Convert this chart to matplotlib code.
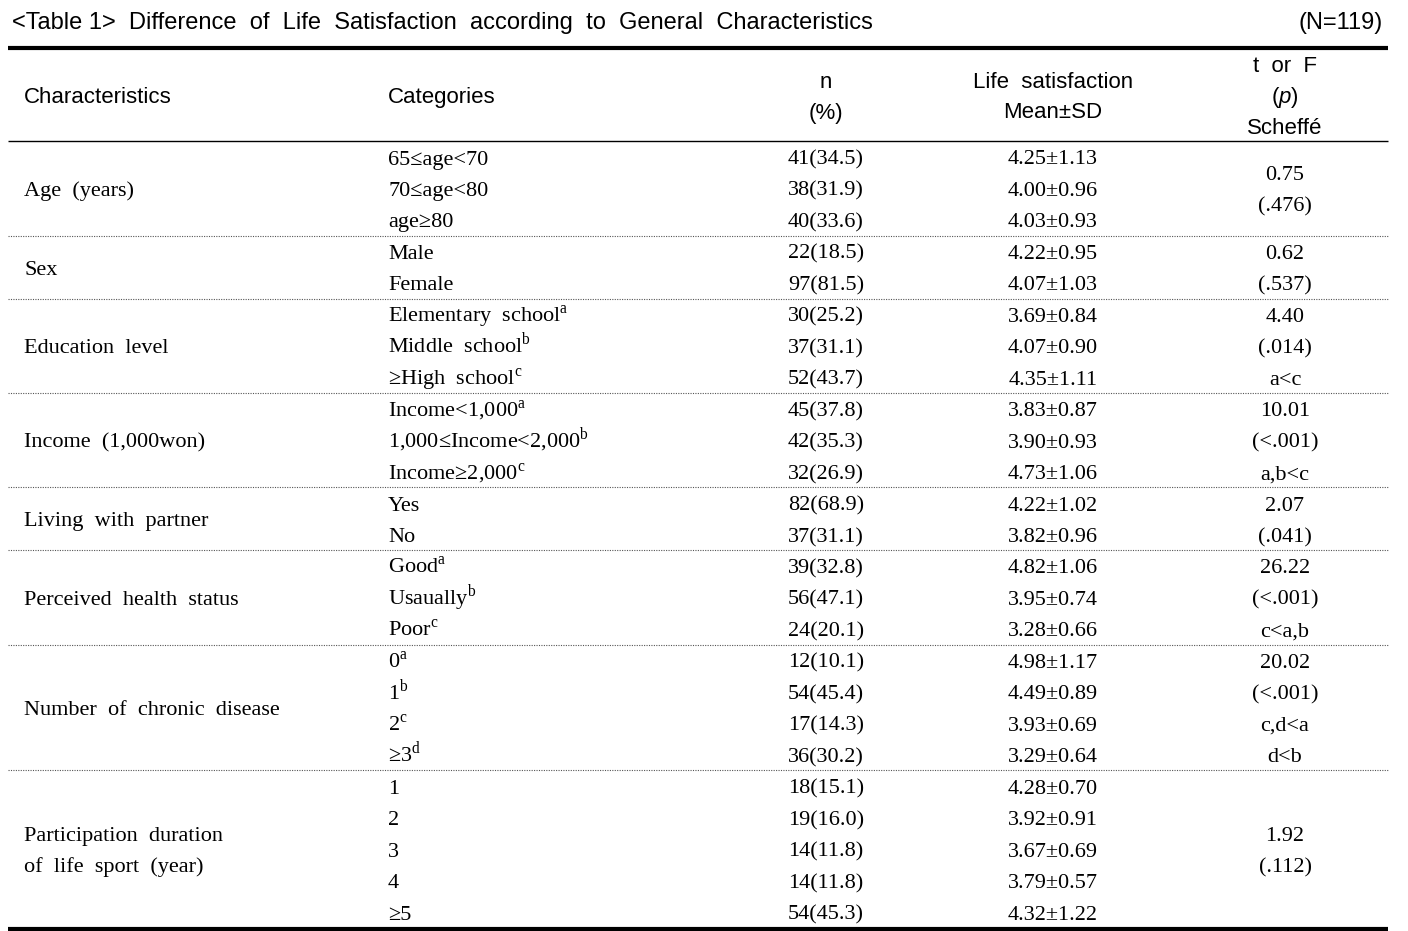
import matplotlib
matplotlib.use("Agg")
import matplotlib.pyplot as plt

plt.rcParams["mathtext.fontset"] = "custom"
plt.rcParams["mathtext.rm"] = "Liberation Serif"
plt.rcParams["mathtext.it"] = "Liberation Sans:italic"

# ---------------- data ----------------
title = "<Table 1>  Difference  of  Life  Satisfaction  according  to  General  Characteristics"
n_total = "(N=119)"

col_headers = [
    ["Characteristics"],
    ["Categories"],
    ["n", "(%)"],
    ["Life  satisfaction", "Mean\u00b1SD"],
    ["t  or  F", "($\\it{p}$)", "Scheff\u00e9"],
]

characteristics = [
    "Age  (years)",
    "Sex",
    "Education  level",
    "Income  (1,000won)",
    "Living  with  partner",
    "Perceived  health  status",
    "Number  of  chronic  disease",
    "Participation  duration\nof  life  sport  (year)",
]

categories = [
    ["65\u2264age<70", "70\u2264age<80", "age\u226580"],
    ["Male", "Female"],
    ["Elementary  school$^{\\mathrm{a}}$", "Middle  school$^{\\mathrm{b}}$", "\u2265High  school$^{\\mathrm{c}}$"],
    ["Income<1,000$^{\\mathrm{a}}$", "1,000\u2264Income<2,000$^{\\mathrm{b}}$", "Income\u22652,000$^{\\mathrm{c}}$"],
    ["Yes", "No"],
    ["Good$^{\\mathrm{a}}$", "Usaually$^{\\mathrm{b}}$", "Poor$^{\\mathrm{c}}$"],
    ["0$^{\\mathrm{a}}$", "1$^{\\mathrm{b}}$", "2$^{\\mathrm{c}}$", "\u22653$^{\\mathrm{d}}$"],
    ["1", "2", "3", "4", "\u22655"],
]

n_pct = [
    ["41(34.5)", "38(31.9)", "40(33.6)"],
    ["22(18.5)", "97(81.5)"],
    ["30(25.2)", "37(31.1)", "52(43.7)"],
    ["45(37.8)", "42(35.3)", "32(26.9)"],
    ["82(68.9)", "37(31.1)"],
    ["39(32.8)", "56(47.1)", "24(20.1)"],
    ["12(10.1)", "54(45.4)", "17(14.3)", "36(30.2)"],
    ["18(15.1)", "19(16.0)", "14(11.8)", "14(11.8)", "54(45.3)"],
]

mean_sd = [
    ["4.25\u00b11.13", "4.00\u00b10.96", "4.03\u00b10.93"],
    ["4.22\u00b10.95", "4.07\u00b11.03"],
    ["3.69\u00b10.84", "4.07\u00b10.90", "4.35\u00b11.11"],
    ["3.83\u00b10.87", "3.90\u00b10.93", "4.73\u00b11.06"],
    ["4.22\u00b11.02", "3.82\u00b10.96"],
    ["4.82\u00b11.06", "3.95\u00b10.74", "3.28\u00b10.66"],
    ["4.98\u00b11.17", "4.49\u00b10.89", "3.93\u00b10.69", "3.29\u00b10.64"],
    ["4.28\u00b10.70", "3.92\u00b10.91", "3.67\u00b10.69", "3.79\u00b10.57", "4.32\u00b11.22"],
]

stats = [
    ["0.75", "(.476)"],
    ["0.62", "(.537)"],
    ["4.40", "(.014)", "a<c"],
    ["10.01", "(<.001)", "a,b<c"],
    ["2.07", "(.041)"],
    ["26.22", "(<.001)", "c<a,b"],
    ["20.02", "(<.001)", "c,d<a", "d<b"],
    ["1.92", "(.112)"],
]

# ---------------- layout ----------------
W, H = 1408, 931
fig = plt.figure(figsize=(W / 100, H / 100), dpi=100)
ax = fig.add_axes([0, 0, 1, 1])
ax.set_xlim(0, W)
ax.set_ylim(H, 0)
ax.axis("off")

SANS = "Liberation Sans"
SERIF = "Liberation Serif"
fs_title = 17
fs_head = 16
fs_body = 16

x_char, x_cat, x_n, x_mean, x_stat = 24, 388, 826, 1053, 1285
x_left, x_right = 8, 1388
row0, pitch = 157, 31.46
off_serif = 7.5   # baseline offset below visual centre
off_sans = 8.0

def serif(x, yc, s, ha="left"):
    ax.text(x, yc + off_serif, s, ha=ha, va="baseline", fontsize=fs_body,
            family=SERIF, color="black")

def sans(x, yc, s, ha="left", fs=fs_head):
    ax.text(x, yc + fs / 2.0, s, ha=ha, va="baseline", fontsize=fs,
            family=SANS, color="black")

# title
sans(12, 20, title, fs=fs_title)
sans(1383, 20, n_total, ha="right", fs=fs_title)

# rules
ax.hlines(48, x_left, x_right, color="black", lw=3.0)
ax.hlines(141, x_left, x_right, color="black", lw=1.0)

# header
header_x = [x_char, x_cat, x_n, x_mean, x_stat]
header_ha = ["left", "left", "center", "center", "center"]
header_c = 95
for hx, ha, lines in zip(header_x, header_ha, col_headers):
    k = len(lines)
    for j, s in enumerate(lines):
        y = header_c + (j - (k - 1) / 2) * 31
        sans(hx, y, s, ha=ha)

# body
r = 0
for gi in range(len(characteristics)):
    k = len(categories[gi])
    ys = [row0 + (r + j) * pitch for j in range(k)]
    yc = (ys[0] + ys[-1]) / 2
    clines = characteristics[gi].split("\n")
    for j, s in enumerate(clines):
        serif(x_char, yc + (j - (len(clines) - 1) / 2) * pitch, s)
    for j in range(k):
        serif(x_cat, ys[j], categories[gi][j])
        serif(x_n, ys[j], n_pct[gi][j], ha="center")
        serif(x_mean, ys[j], mean_sd[gi][j], ha="center")
    sl = stats[gi]
    for j, s in enumerate(sl):
        serif(x_stat, yc + (j - (len(sl) - 1) / 2) * pitch, s, ha="center")
    r += k
    ybot = row0 + (r - 1) * pitch + pitch / 2
    if gi < len(characteristics) - 1:
        ax.hlines(ybot, x_left, x_right, color="#555555", lw=0.8,
                  linestyles=(0, (1, 1.2)))
    else:
        ax.hlines(ybot + 1, x_left, x_right, color="black", lw=3.0)

fig.savefig("out.png", dpi=100)
